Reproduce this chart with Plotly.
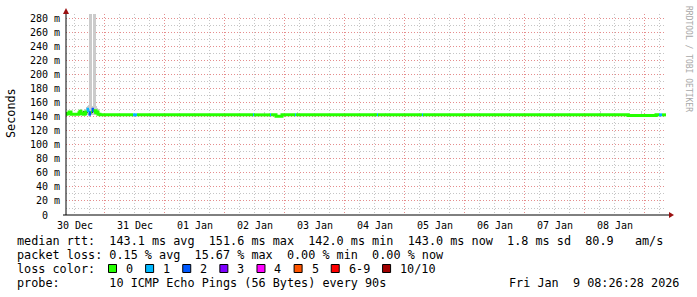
import plotly.graph_objects as go
from datetime import datetime, timedelta

# ---------------- data ----------------
END_TIME = datetime(2026, 1, 9, 8, 26, 28)
START_TIME = END_TIME - timedelta(days=10)

# median rtt breakpoints: hours after start, value (ms), lost pings (of 10)
med_hours = [0.0, 0.4, 1.2, 2.0, 4.4, 5.2, 5.6, 6.0, 6.8, 7.6, 8.0, 8.4, 8.8, 9.2, 9.6,
             10.0, 10.4, 10.8, 11.2, 11.6, 12.0, 12.4, 12.8, 13.6,
             26.8, 27.6, 28.4, 74.8, 75.2, 81.6, 82.0, 84.0, 86.4,
             91.6, 92.0, 124.4, 124.8, 142.4, 142.8, 224.8, 236.0, 237.2, 238.4, 240.0]
med_ms = [144, 145, 147, 144, 144, 146, 148, 145, 144, 147, 145, 149, 151, 146, 144,
          147, 149, 151, 147, 149, 146, 147, 144, 143,
          143, 143, 143, 143, 143, 143, 143, 141, 143,
          143, 143, 143, 143, 143, 143, 142, 143, 143, 143, 143]
med_loss = [0, 0, 0, 0, 0, 0, 0, 0, 0, 0, 0, 1, 1, 2, 2,
            0, 2, 2, 0, 0, 0, 0, 0, 0,
            1, 1, 0, 1, 0, 1, 0, 0, 0,
            1, 0, 1, 0, 1, 0, 0, 0, 1, 0, 0]

# smoke (spread of the 10 pings): hours after start, low / high (ms)
smoke_hours = [5.4, 5.8, 6.2, 6.6, 7.0, 7.4, 7.8, 8.2, 8.6, 9.0, 9.4, 9.8, 10.2, 10.6,
               11.0, 11.4, 11.8, 12.2, 12.6, 13.0,
               79.4, 92.6, 123.8, 127.8, 213.8, 230.2]
smoke_lo = [143, 143, 143, 143, 143, 143, 143, 143, 143, 143, 143, 143, 143, 143,
            143, 143, 143, 143, 143, 143,
            143, 143, 143, 143, 143, 143]
smoke_hi = [150, 152, 150, 149, 147, 148, 151, 154, 156, 157, 300, 300, 300, 156,
            300, 300, 300, 155, 153, 151,
            147, 147, 146, 146, 148, 149]

# darker core of the smoke
core_hours = [5.8, 7.0, 8.6, 10.6, 12.2]
core_lo = [145, 145, 146, 146, 145]
core_hi = [150, 149, 153, 152, 149]

y_tick_vals = [0, 20, 40, 60, 80, 100, 120, 140, 160, 180, 200, 220, 240, 260, 280]
y_tick_text = ["0  "] + [f"{v} m" for v in y_tick_vals[1:]]
x_label_days = ["2025-12-30", "2025-12-31", "2026-01-01", "2026-01-02", "2026-01-03",
                "2026-01-04", "2026-01-05", "2026-01-06", "2026-01-07", "2026-01-08"]
x_label_text = ["30 Dec", "31 Dec", "01 Jan", "02 Jan", "03 Jan",
                "04 Jan", "05 Jan", "06 Jan", "07 Jan", "08 Jan"]
x_grid_days = ["2025-12-31", "2026-01-01", "2026-01-02", "2026-01-03", "2026-01-04",
               "2026-01-05", "2026-01-06", "2026-01-07", "2026-01-08", "2026-01-09"]

loss_labels = ["0", "1", "2", "3", "4", "5", "6-9", "10/10"]
loss_colors = ["#26ff00", "#00b8ff", "#0059ff", "#7e00ff", "#ff00ff", "#ff5500", "#ff0000", "#a10000"]

legend_lines = [
    "median rtt:  143.1 ms avg  151.6 ms max  142.0 ms min  143.0 ms now  1.8 ms sd  80.9   am/s",
    "packet loss: 0.15 % avg  15.67 % max  0.00 % min  0.00 % now",
    "loss color:",
    "probe:       10 ICMP Echo Pings (56 Bytes) every 90s",
]
timestamp_text = "Fri Jan  9 08:26:28 2026"
watermark = "RRDTOOL / TOBI OETIKER"
y_title = "Seconds"

# ---------------- helpers ----------------
def t(h):
    return START_TIME + timedelta(hours=h)

MONO = "DejaVu Sans Mono"
W, H = 697, 297
L, R, T, B = 66, 31, 14, 82
PW, PH = W - L - R, H - T - B
SAMPLE_MS = 0.4 * 3600 * 1000  # one pixel of time


def px_x(x):
    return (x - L) / PW


def px_y(y):
    return (H - B - y) / PH


def time_frac(ts):
    return (ts - START_TIME).total_seconds() / (END_TIME - START_TIME).total_seconds()


def loss_color(n):
    if n <= 5:
        return loss_colors[n]
    if n < 10:
        return loss_colors[6]
    return loss_colors[7]


fig = go.Figure()

# smoke
fig.add_trace(go.Bar(
    x=[t(h) for h in smoke_hours],
    y=[hi - lo for lo, hi in zip(smoke_lo, smoke_hi)],
    base=smoke_lo, width=SAMPLE_MS,
    marker=dict(color="#cbcbcb", line=dict(width=0)),
    showlegend=False, hoverinfo="skip"))
fig.add_trace(go.Bar(
    x=[t(h) for h in core_hours],
    y=[hi - lo for lo, hi in zip(core_lo, core_hi)],
    base=core_lo, width=SAMPLE_MS,
    marker=dict(color="#303030", line=dict(width=0)),
    showlegend=False, hoverinfo="skip"))

# median line, coloured by loss (each breakpoint holds until the next)
n = len(med_hours)
i = 0
while i < n - 1:
    c = loss_color(med_loss[i])
    j = i
    while j + 1 < n - 1 and loss_color(med_loss[j + 1]) == c:
        j += 1
    xs = [t(med_hours[k]) for k in range(i, j + 2)]
    ys = [med_ms[k] for k in range(i, j + 1)] + [med_ms[j]]
    fig.add_trace(go.Scatter(x=xs, y=ys, mode="lines", line=dict(color=c, width=3, shape="hv"),
                             showlegend=False, hoverinfo="skip"))
    i = j + 1

MAJOR = "rgba(255,95,95,0.55)"
MINOR = "rgba(150,150,150,0.55)"
DASH = "1px,2px"

fig.update_layout(
    width=W, height=H, margin=dict(l=L, r=R, t=T, b=B),
    paper_bgcolor="white", plot_bgcolor="white",
    barmode="overlay", bargap=0,
    xaxis=dict(type="date", range=[START_TIME, END_TIME], tickvals=x_grid_days,
               showticklabels=False, ticks="", showgrid=True, gridcolor=MAJOR, griddash=DASH,
               gridwidth=1, zeroline=False, showline=False,
               minor=dict(dtick=6 * 3600 * 1000, tick0="2025-12-30 00:00", showgrid=True,
                          gridcolor=MINOR, griddash=DASH, gridwidth=1)),
    yaxis=dict(range=[0, 287], tickvals=y_tick_vals,
               ticktext=[s.replace(" ", "\u00a0") for s in y_tick_text], ticks="",
               showgrid=True, gridcolor=MAJOR, griddash=DASH, gridwidth=1, zeroline=False,
               showline=False, tickfont=dict(family=MONO, size=10, color="black"),
               ticklabelstandoff=5,
               minor=dict(dtick=10, showgrid=True, gridcolor=MINOR, griddash=DASH, gridwidth=1)),
    showlegend=False,
)

shapes = []
# axes with arrows
shapes.append(dict(type="line", xref="paper", yref="paper", x0=px_x(63), x1=px_x(670),
                   y0=0, y1=0, line=dict(color="black", width=1)))
shapes.append(dict(type="line", xref="paper", yref="paper", x0=0, x1=0,
                   y0=0, y1=px_y(10), line=dict(color="black", width=1)))
shapes.append(dict(type="path", xref="paper", yref="paper",
                   path=f"M {px_x(669)},{px_y(212)} L {px_x(674)},{px_y(215)} L {px_x(669)},{px_y(218)} Z",
                   fillcolor="#9a1010", line=dict(width=0)))
shapes.append(dict(type="path", xref="paper", yref="paper",
                   path=f"M {px_x(63)},{px_y(14)} L {px_x(66)},{px_y(8)} L {px_x(69)},{px_y(14)} Z",
                   fillcolor="#9a1010", line=dict(width=0)))

annotations = []
# day labels, centred at noon of each day on the time scale
for d, lab in zip(x_label_days, x_label_text):
    noon = datetime.fromisoformat(d) + timedelta(hours=12)
    annotations.append(dict(xref="paper", yref="paper", x=time_frac(noon), y=px_y(225),
                            xanchor="center", yanchor="middle", showarrow=False,
                            text=lab.replace(" ", "\u00a0"),
                            font=dict(family=MONO, size=10, color="black")))

LINE_Y = [241, 255, 269, 283]
TEXT_X = 15
CHAR_W = 7.12
for txt, y in zip(legend_lines, LINE_Y):
    annotations.append(dict(xref="paper", yref="paper", x=px_x(TEXT_X), y=px_y(y),
                            xanchor="left", yanchor="middle", showarrow=False,
                            text=txt.replace(" ", "\u00a0"),
                            font=dict(family=MONO, size=11.8, color="black")))
annotations.append(dict(xref="paper", yref="paper", x=px_x(681), y=px_y(LINE_Y[3]),
                        xanchor="right", yanchor="middle", showarrow=False,
                        text=timestamp_text.replace(" ", "\u00a0"),
                        font=dict(family=MONO, size=11.8, color="black")))

# loss colour boxes
bx = 108.5
for lab, col in zip(loss_labels, loss_colors):
    shapes.append(dict(type="rect", xref="paper", yref="paper",
                       x0=px_x(bx), x1=px_x(bx + 8), y0=px_y(272.5), y1=px_y(264.5),
                       fillcolor=col, line=dict(color="black", width=1)))
    tx = bx + 15.5
    annotations.append(dict(xref="paper", yref="paper", x=px_x(tx), y=px_y(LINE_Y[2]),
                            xanchor="left", yanchor="middle", showarrow=False, text=lab,
                            font=dict(family=MONO, size=11.8, color="black")))
    bx = tx + CHAR_W * len(lab) + 14.5

annotations.append(dict(xref="paper", yref="paper", x=px_x(11), y=px_y(113),
                        xanchor="center", yanchor="middle", showarrow=False, textangle=-90,
                        text=y_title, font=dict(family=MONO, size=11.8, color="black")))
annotations.append(dict(xref="paper", yref="paper", x=px_x(688), y=px_y(59),
                        xanchor="center", yanchor="middle", showarrow=False, textangle=90,
                        text=watermark.replace(" ", "\u00a0"),
                        font=dict(family=MONO, size=8, color="#a8a8a8")))

fig.update_layout(shapes=shapes, annotations=annotations)
fig.write_html("out.html")
